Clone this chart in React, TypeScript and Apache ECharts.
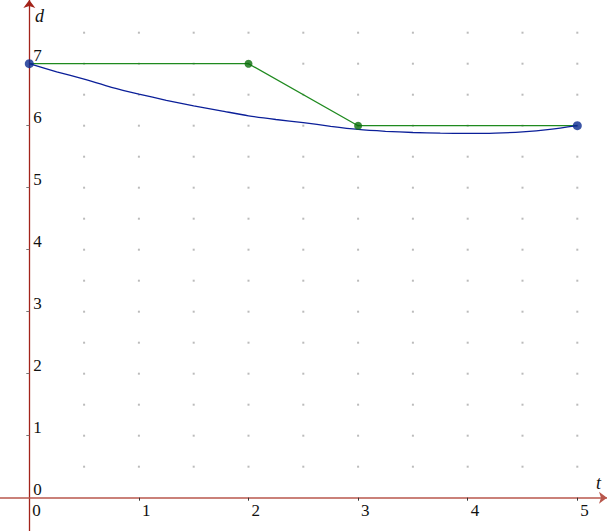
import React, { useEffect, useRef } from "react";
import * as echarts from "echarts";

const xTicks = [0, 1, 2, 3, 4, 5];
const yTicks = [0, 1, 2, 3, 4, 5, 6, 7];
const gridX = [0.5, 1, 1.5, 2, 2.5, 3, 3.5, 4, 4.5, 5];
const gridY = [0.5, 1, 1.5, 2, 2.5, 3, 3.5, 4, 4.5, 5, 5.5, 6, 6.5, 7, 7.5];

const greenLine = [
  [0, 7],
  [2, 7],
  [3, 6],
  [5, 6],
];
const greenPoints = [
  [2, 7],
  [3, 6],
];
const blueT = [0, 0.25, 0.5, 0.75, 1, 1.25, 1.5, 1.75, 2, 2.25, 2.5, 2.75, 3, 3.25, 3.5, 3.75, 4, 4.25, 4.5, 4.75, 5];
const blueD = [7.0, 6.87, 6.75, 6.62, 6.51, 6.41, 6.32, 6.24, 6.16, 6.1, 6.05, 5.99, 5.94, 5.91, 5.89, 5.88, 5.875, 5.88, 5.9, 5.94, 6.0];
const bluePoints = [
  [0, 7],
  [5, 6],
];

const FONT = '"Liberation Serif", "DejaVu Serif", serif';

export default function App() {
  const ref = useRef<HTMLDivElement>(null);
  useEffect(() => {
    if (!ref.current) return;
    const chart = echarts.init(ref.current, null, { renderer: "svg" });
    const dots: number[][] = [];
    gridX.forEach((x) => gridY.forEach((y) => dots.push([x, y])));
    chart.setOption({
      animation: false,
      backgroundColor: "#ffffff",
      grid: { left: 0, right: 0, top: 0, bottom: 0, containLabel: false, outerBoundsMode: "none" },
      xAxis: {
        type: "value",
        min: -0.2673,
        max: 5.271,
        offset: -33.3,
        splitLine: { show: false },
        axisLine: {
          show: true,
          onZero: false,
          symbol: ["none", "arrow"],
          symbolSize: [9, 8],
          lineStyle: { color: "#b8574c", width: 1.6 },
        },
        axisTick: { show: true, customValues: [1, 2, 3, 4, 5], length: 3, lineStyle: { color: "#333" } },
        axisLabel: {
          show: true,
          customValues: xTicks,
          align: "left",
          margin: 4,
          padding: [0, 0, 0, 3],
          fontFamily: FONT,
          fontSize: 17,
          color: "#111",
        },
      },
      yAxis: {
        type: "value",
        min: -0.5371,
        max: 8.0274,
        offset: -29.3,
        splitLine: { show: false },
        axisLine: {
          show: true,
          onZero: false,
          symbol: ["none", "arrow"],
          symbolSize: [9, 8],
          lineStyle: { color: "#a3231a", width: 1.3 },
        },
        axisTick: { show: true, customValues: [1, 2, 3, 4, 5, 6], length: 3, lineStyle: { color: "#777" } },
        axisLabel: {
          show: true,
          inside: true,
          customValues: yTicks,
          align: "left",
          verticalAlign: "bottom",
          margin: 4,
          fontFamily: FONT,
          fontSize: 17,
          color: "#111",
        },
      },
      graphic: [
        {
          type: "text",
          left: 35,
          top: 7,
          style: { text: "d", font: 'italic 18px "Liberation Serif"', fill: "#111" },
        },
        {
          type: "text",
          left: 596,
          top: 474,
          style: { text: "t", font: 'italic 18px "Liberation Serif"', fill: "#111" },
        },
      ],
      series: [
        {
          type: "scatter",
          data: dots,
          symbol: "rect",
          symbolSize: 2,
          itemStyle: { color: "#aaaaaa" },
          silent: true,
          z: 1,
        },
        {
          type: "line",
          data: greenLine,
          symbol: "none",
          lineStyle: { color: "#1f8a1f", width: 1.3 },
          z: 3,
        },
        {
          type: "line",
          data: blueT.map((t, i) => [t, blueD[i]]),
          smooth: 0.25,
          symbol: "none",
          lineStyle: { color: "#0b1f99", width: 1.3 },
          z: 3,
        },
        {
          type: "scatter",
          data: greenPoints,
          symbolSize: 8,
          itemStyle: { color: "#0a6e0a" },
          z: 4,
        },
        {
          type: "scatter",
          data: bluePoints,
          symbolSize: 9,
          itemStyle: { color: "#0a2a90" },
          z: 4,
        },
      ],
    });
    return () => chart.dispose();
  }, []);
  return (
    <div
      ref={ref}
      style={{ position: "fixed", left: 0, top: 0, width: 607, height: 531 }}
    />
  );
}
